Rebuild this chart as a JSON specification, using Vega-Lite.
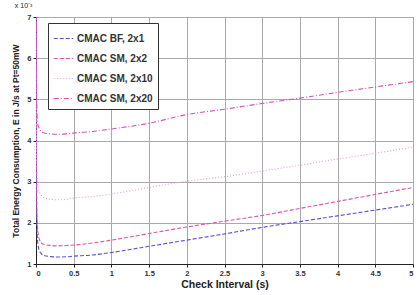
{
  "$schema": "https://vega.github.io/schema/vega-lite/v6.json",
  "width": 377,
  "height": 247,
  "autosize": {"type": "none"},
  "padding": {"left": 36, "top": 17, "right": 5, "bottom": 31},
  "background": "white",
  "title": {"text": "x 10⁻³", "anchor": "start", "fontSize": 7, "fontWeight": "normal", "font": "Liberation Sans", "offset": 4, "dx": 3, "color": "#222"},
  "config": {
    "view": {"stroke": "#222", "strokeWidth": 1},
    "font": "Liberation Sans",
    "axis": {
      "domainColor": "#222", "tickColor": "#222", "tickSize": 3,
      "labelFontSize": 7.5, "labelFontWeight": "bold", "labelColor": "#333",
      "titleFontWeight": "bold", "titleColor": "#222"
    },
    "legend": {
      "strokeColor": "#333", "fillColor": "white", "padding": 5, "cornerRadius": 0,
      "labelFontSize": 10, "labelFontWeight": "bold", "labelColor": "#333",
      "symbolType": "stroke", "symbolSize": 380, "symbolStrokeWidth": 1.2, "rowPadding": 4, "labelOffset": 3
    }
  },
  "data": {"values": [
    {"x": 0.002, "y": 8.0, "s": "CMAC BF, 2x1"},
    {"x": 0.004, "y": 4.5, "s": "CMAC BF, 2x1"},
    {"x": 0.006, "y": 2.8, "s": "CMAC BF, 2x1"},
    {"x": 0.01, "y": 2.1, "s": "CMAC BF, 2x1"},
    {"x": 0.02, "y": 1.6, "s": "CMAC BF, 2x1"},
    {"x": 0.04, "y": 1.35, "s": "CMAC BF, 2x1"},
    {"x": 0.07, "y": 1.25, "s": "CMAC BF, 2x1"},
    {"x": 0.1, "y": 1.21, "s": "CMAC BF, 2x1"},
    {"x": 0.2, "y": 1.18, "s": "CMAC BF, 2x1"},
    {"x": 0.3, "y": 1.17, "s": "CMAC BF, 2x1"},
    {"x": 0.4, "y": 1.175, "s": "CMAC BF, 2x1"},
    {"x": 0.5, "y": 1.19, "s": "CMAC BF, 2x1"},
    {"x": 0.75, "y": 1.22, "s": "CMAC BF, 2x1"},
    {"x": 1.0, "y": 1.28, "s": "CMAC BF, 2x1"},
    {"x": 1.5, "y": 1.43, "s": "CMAC BF, 2x1"},
    {"x": 2.0, "y": 1.58, "s": "CMAC BF, 2x1"},
    {"x": 2.5, "y": 1.73, "s": "CMAC BF, 2x1"},
    {"x": 3.0, "y": 1.89, "s": "CMAC BF, 2x1"},
    {"x": 3.5, "y": 2.03, "s": "CMAC BF, 2x1"},
    {"x": 4.0, "y": 2.17, "s": "CMAC BF, 2x1"},
    {"x": 4.5, "y": 2.31, "s": "CMAC BF, 2x1"},
    {"x": 5.0, "y": 2.45, "s": "CMAC BF, 2x1"},

    {"x": 0.002, "y": 8.5, "s": "CMAC SM, 2x2"},
    {"x": 0.004, "y": 5.0, "s": "CMAC SM, 2x2"},
    {"x": 0.006, "y": 3.2, "s": "CMAC SM, 2x2"},
    {"x": 0.01, "y": 2.5, "s": "CMAC SM, 2x2"},
    {"x": 0.02, "y": 1.9, "s": "CMAC SM, 2x2"},
    {"x": 0.04, "y": 1.62, "s": "CMAC SM, 2x2"},
    {"x": 0.07, "y": 1.52, "s": "CMAC SM, 2x2"},
    {"x": 0.1, "y": 1.48, "s": "CMAC SM, 2x2"},
    {"x": 0.2, "y": 1.45, "s": "CMAC SM, 2x2"},
    {"x": 0.3, "y": 1.44, "s": "CMAC SM, 2x2"},
    {"x": 0.4, "y": 1.45, "s": "CMAC SM, 2x2"},
    {"x": 0.5, "y": 1.46, "s": "CMAC SM, 2x2"},
    {"x": 0.75, "y": 1.51, "s": "CMAC SM, 2x2"},
    {"x": 1.0, "y": 1.58, "s": "CMAC SM, 2x2"},
    {"x": 1.5, "y": 1.74, "s": "CMAC SM, 2x2"},
    {"x": 2.0, "y": 1.9, "s": "CMAC SM, 2x2"},
    {"x": 2.5, "y": 2.04, "s": "CMAC SM, 2x2"},
    {"x": 3.0, "y": 2.18, "s": "CMAC SM, 2x2"},
    {"x": 3.5, "y": 2.35, "s": "CMAC SM, 2x2"},
    {"x": 4.0, "y": 2.52, "s": "CMAC SM, 2x2"},
    {"x": 4.5, "y": 2.69, "s": "CMAC SM, 2x2"},
    {"x": 5.0, "y": 2.86, "s": "CMAC SM, 2x2"},

    {"x": 0.002, "y": 9.0, "s": "CMAC SM, 2x10"},
    {"x": 0.004, "y": 6.0, "s": "CMAC SM, 2x10"},
    {"x": 0.006, "y": 4.2, "s": "CMAC SM, 2x10"},
    {"x": 0.01, "y": 3.5, "s": "CMAC SM, 2x10"},
    {"x": 0.02, "y": 3.0, "s": "CMAC SM, 2x10"},
    {"x": 0.04, "y": 2.78, "s": "CMAC SM, 2x10"},
    {"x": 0.07, "y": 2.67, "s": "CMAC SM, 2x10"},
    {"x": 0.1, "y": 2.62, "s": "CMAC SM, 2x10"},
    {"x": 0.2, "y": 2.57, "s": "CMAC SM, 2x10"},
    {"x": 0.3, "y": 2.56, "s": "CMAC SM, 2x10"},
    {"x": 0.4, "y": 2.57, "s": "CMAC SM, 2x10"},
    {"x": 0.5, "y": 2.6, "s": "CMAC SM, 2x10"},
    {"x": 0.75, "y": 2.64, "s": "CMAC SM, 2x10"},
    {"x": 1.0, "y": 2.7, "s": "CMAC SM, 2x10"},
    {"x": 1.5, "y": 2.86, "s": "CMAC SM, 2x10"},
    {"x": 2.0, "y": 3.01, "s": "CMAC SM, 2x10"},
    {"x": 2.5, "y": 3.12, "s": "CMAC SM, 2x10"},
    {"x": 3.0, "y": 3.26, "s": "CMAC SM, 2x10"},
    {"x": 3.5, "y": 3.4, "s": "CMAC SM, 2x10"},
    {"x": 4.0, "y": 3.55, "s": "CMAC SM, 2x10"},
    {"x": 4.5, "y": 3.69, "s": "CMAC SM, 2x10"},
    {"x": 5.0, "y": 3.84, "s": "CMAC SM, 2x10"},

    {"x": 0.002, "y": 10.0, "s": "CMAC SM, 2x20"},
    {"x": 0.004, "y": 7.5, "s": "CMAC SM, 2x20"},
    {"x": 0.006, "y": 5.8, "s": "CMAC SM, 2x20"},
    {"x": 0.01, "y": 4.9, "s": "CMAC SM, 2x20"},
    {"x": 0.02, "y": 4.45, "s": "CMAC SM, 2x20"},
    {"x": 0.04, "y": 4.3, "s": "CMAC SM, 2x20"},
    {"x": 0.07, "y": 4.22, "s": "CMAC SM, 2x20"},
    {"x": 0.1, "y": 4.19, "s": "CMAC SM, 2x20"},
    {"x": 0.2, "y": 4.16, "s": "CMAC SM, 2x20"},
    {"x": 0.3, "y": 4.15, "s": "CMAC SM, 2x20"},
    {"x": 0.4, "y": 4.16, "s": "CMAC SM, 2x20"},
    {"x": 0.5, "y": 4.18, "s": "CMAC SM, 2x20"},
    {"x": 0.75, "y": 4.22, "s": "CMAC SM, 2x20"},
    {"x": 1.0, "y": 4.28, "s": "CMAC SM, 2x20"},
    {"x": 1.5, "y": 4.42, "s": "CMAC SM, 2x20"},
    {"x": 2.0, "y": 4.63, "s": "CMAC SM, 2x20"},
    {"x": 2.5, "y": 4.76, "s": "CMAC SM, 2x20"},
    {"x": 3.0, "y": 4.9, "s": "CMAC SM, 2x20"},
    {"x": 3.5, "y": 5.03, "s": "CMAC SM, 2x20"},
    {"x": 4.0, "y": 5.17, "s": "CMAC SM, 2x20"},
    {"x": 4.5, "y": 5.3, "s": "CMAC SM, 2x20"},
    {"x": 5.0, "y": 5.43, "s": "CMAC SM, 2x20"}
  ]},
  "mark": {"type": "line", "clip": true, "strokeWidth": 1.1, "interpolate": "monotone"},
  "encoding": {
    "x": {
      "field": "x", "type": "quantitative",
      "scale": {"domain": [0, 5], "nice": false},
      "axis": {"grid": true, "gridColor": "darkgray", "values": [0, 0.5, 1, 1.5, 2, 2.5, 3, 3.5, 4, 4.5, 5], "format": "~g", "title": "Check Interval (s)", "titleFontSize": 10.5, "titlePadding": 3, "labelPadding": 2}
    },
    "y": {
      "field": "y", "type": "quantitative",
      "scale": {"domain": [1, 7], "nice": false, "zero": false},
      "axis": {"grid": true, "gridColor": "darkgray", "values": [1, 2, 3, 4, 5, 6, 7], "title": "Total Energy Consumption, E in J/s at Pt=50mW", "titleFontSize": 8.5, "titlePadding": 6, "labelPadding": 2}
    },
    "color": {
      "field": "s", "type": "nominal",
      "scale": {"domain": ["CMAC BF, 2x1", "CMAC SM, 2x2", "CMAC SM, 2x10", "CMAC SM, 2x20"], "range": ["#5252d4", "#e052a8", "#ea98dc", "#d650c0"]},
      "legend": {"title": null, "orient": "none", "legendX": 12, "legendY": 6}
    },
    "strokeDash": {
      "field": "s", "type": "nominal",
      "scale": {"domain": ["CMAC BF, 2x1", "CMAC SM, 2x2", "CMAC SM, 2x10", "CMAC SM, 2x20"], "range": [[4, 2], [4, 2], [1, 2], [5, 2, 1, 2]]},
      "legend": {"title": null, "orient": "none", "legendX": 12, "legendY": 6}
    }
  }
}
